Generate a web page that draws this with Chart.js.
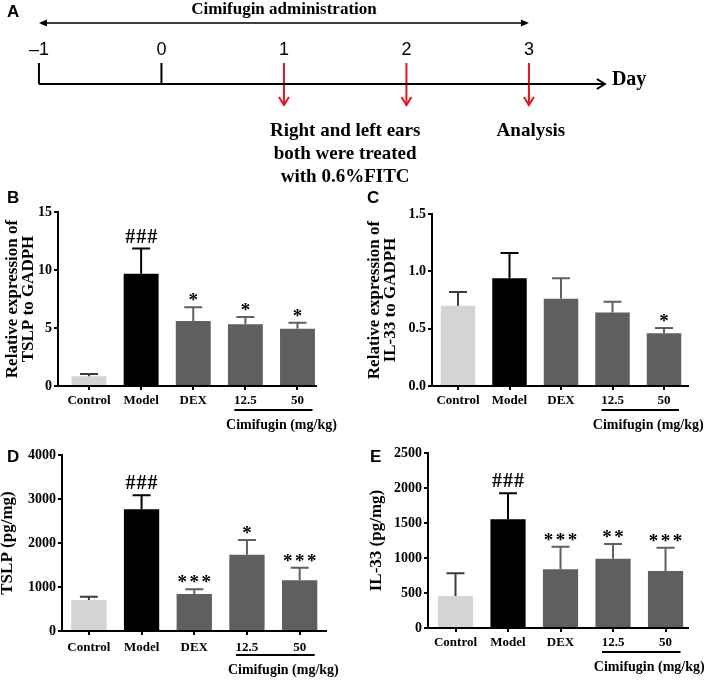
<!DOCTYPE html>
<html>
<head>
<meta charset="utf-8">
<title>Cimifugin</title>
<script src="https://cdn.jsdelivr.net/npm/chart.js@4.4.1/dist/chart.umd.min.js"></script>
<style>
  body { margin: 0; background: #fff; }
  #figura { position: relative; width: 709px; height: 680px; overflow: hidden; }
  canvas { position: absolute; }
</style>
</head>
<body>
<div id="figura">
  <canvas id="grafico-a" width="709" height="190" style="left:0;top:0"></canvas>
  <canvas id="grafico-b" width="355" height="260" style="left:0;top:178px"></canvas>
  <canvas id="grafico-c" width="354" height="260" style="left:355px;top:178px"></canvas>
  <canvas id="grafico-d" width="355" height="250" style="left:0;top:430px"></canvas>
  <canvas id="grafico-e" width="354" height="250" style="left:355px;top:430px"></canvas>
</div>
<script>
// ---- timeline (A)
const dias = [-1, 0, 1, 2, 3];
const rotulosDias = ['–1', '0', '1', '2', '3'];
const diasInicio = [-1, 0];
const diasTratamento = [1, 2, 3];
const periodoAdm = [-1, 3];
const fimEixo = 3.62;
const notaTratamento = ['Right and left ears', 'both were treated', 'with 0.6%FITC'];
const diaNota = 1.5;
const diaAnalise = 3;

// ---- bar panels
const grupos = ['Control', 'Model', 'DEX', '12.5', '50'];

const tslpRel = [0.83, 9.67, 5.6, 5.33, 4.93];      // B
const tslpRelErro = [0.2, 2.18, 1.18, 0.61, 0.52];
const tslpRelSig = ['', '###', '*', '*', '*'];

const il33Rel = [0.70, 0.94, 0.76, 0.64, 0.46];     // C
const il33RelErro = [0.12, 0.22, 0.18, 0.095, 0.045];
const il33RelSig = ['', '', '', '', '*'];

const tslpProt = [705, 2766, 841, 1734, 1152];      // D
const tslpProtErro = [75, 318, 106, 334, 287];
const tslpProtSig = ['', '###', '***', '*', '***'];

const il33Prot = [457, 1552, 838, 990, 814];        // E
const il33ProtErro = [324, 372, 324, 210, 334];
const il33ProtSig = ['', '###', '***', '**', '***'];

var coresBarras = ['#d4d4d4', '#000000', '#5f5f5f', '#5f5f5f', '#5f5f5f'];
var vermelho = '#e3161d';
var serif = '"Liberation Serif", "Times New Roman", serif';
var sans = '"Liberation Sans", Arial, sans-serif';

Chart.defaults.font.family = serif;
Chart.defaults.color = '#000';

function seta(ctx, pontos) {
    ctx.beginPath();
    ctx.moveTo(pontos[0][0], pontos[0][1]);
    ctx.lineTo(pontos[1][0], pontos[1][1]);
    ctx.lineTo(pontos[2][0], pontos[2][1]);
}

const linhaDoTempo = {
    id: 'linhaDoTempo',
    afterDatasetsDraw(chart) {
        const ctx = chart.ctx;
        const xs = chart.scales.x, ys = chart.scales.y;
        const base = ys.getPixelForValue(0);
        const fundo = ys.getPixelForValue(-1);
        ctx.save();
        ctx.fillStyle = '#000';
        ctx.strokeStyle = '#000';

        // administration period, double arrow
        const a0 = xs.getPixelForValue(periodoAdm[0]), a1 = xs.getPixelForValue(periodoAdm[1]);
        const ay = base - 61;
        ctx.lineWidth = 1.5;
        ctx.beginPath();
        ctx.moveTo(a0 + 4, ay);
        ctx.lineTo(a1 - 4, ay);
        ctx.stroke();
        seta(ctx, [[a0 + 8, ay - 3.5], [a0, ay], [a0 + 8, ay + 3.5]]);
        ctx.closePath(); ctx.fill();
        seta(ctx, [[a1 - 8, ay - 3.5], [a1, ay], [a1 - 8, ay + 3.5]]);
        ctx.closePath(); ctx.fill();

        ctx.textAlign = 'center';
        ctx.textBaseline = 'alphabetic';
        ctx.font = 'bold 17px ' + serif;
        ctx.fillText('Cimifugin administration', (a0 + a1) / 2, base - 70);

        // day numbers
        ctx.font = '18px ' + sans;
        dias.forEach(function (d, i) {
            ctx.fillText(rotulosDias[i], xs.getPixelForValue(d), base - 29);
        });

        // end of the day axis
        const ponta = xs.getPixelForValue(fimEixo);
        ctx.lineWidth = 2;
        seta(ctx, [[ponta - 8, base - 5], [ponta, base], [ponta - 8, base + 5]]);
        ctx.stroke();
        ctx.textAlign = 'left';
        ctx.font = 'bold 20px ' + serif;
        ctx.fillText('Day', ponta + 7, base + 1);

        // red arrow heads
        ctx.strokeStyle = vermelho;
        diasTratamento.forEach(function (d) {
            const x = xs.getPixelForValue(d);
            seta(ctx, [[x - 5, fundo - 8], [x, fundo], [x + 5, fundo - 8]]);
            ctx.stroke();
        });

        // notes
        ctx.textAlign = 'center';
        ctx.font = 'bold 19px ' + serif;
        notaTratamento.forEach(function (t, i) {
            ctx.fillText(t, xs.getPixelForValue(diaNota), base + 52 + i * 23);
        });
        ctx.fillText('Analysis', xs.getPixelForValue(diaAnalise) + 2, base + 52);

        ctx.textAlign = 'left';
        ctx.font = 'bold 17px ' + sans;
        ctx.fillText('A', 7, 17);
        ctx.restore();
    }
};

function segmentos(lista, ate) {
    var pts = [];
    lista.forEach(function (d) {
        pts.push({ x: d, y: 1 }, { x: d, y: ate }, { x: d, y: null });
    });
    return pts;
}

new Chart(document.getElementById('grafico-a'), {
    type: 'line',
    data: {
        datasets: [
            { data: [{ x: dias[0], y: 0 }, { x: fimEixo, y: 0 }], borderColor: '#000', borderWidth: 2, clip: false },
            { data: segmentos(diasInicio, 0), borderColor: '#000', borderWidth: 2, clip: false },
            { data: segmentos(diasTratamento, -1), borderColor: vermelho, borderWidth: 2, clip: false }
        ]
    },
    options: {
        responsive: false,
        animation: false,
        layout: { padding: { top: 63, bottom: 85, left: 0, right: 0 } },
        elements: { point: { radius: 0 }, line: { tension: 0 } },
        plugins: { legend: { display: false }, tooltip: { enabled: false } },
        scales: {
            x: { type: 'linear', display: false, min: -1.318, max: 4.47 },
            y: { type: 'linear', display: false, min: -1, max: 1 }
        }
    },
    plugins: [linhaDoTempo]
});

// error bars, significance marks, dose underline, panel letter
const extrasBarras = {
    id: 'extrasBarras',
    afterDatasetsDraw(chart, args, opts) {
        const ctx = chart.ctx;
        const ds = chart.data.datasets[0];
        const meta = chart.getDatasetMeta(0);
        const xs = chart.scales.x, ys = chart.scales.y;
        const area = chart.chartArea;
        ctx.save();
        ctx.lineWidth = 2;
        ctx.textAlign = 'center';
        ctx.textBaseline = 'alphabetic';
        meta.data.forEach(function (bar, i) {
            const topo = ys.getPixelForValue(ds.data[i].y + ds.erros[i]);
            ctx.strokeStyle = i === 0 ? '#3c3c3c' : coresBarras[i];
            ctx.beginPath();
            ctx.moveTo(bar.x, bar.y);
            ctx.lineTo(bar.x, topo);
            ctx.moveTo(bar.x - 9, topo);
            ctx.lineTo(bar.x + 9, topo);
            ctx.stroke();

            const sig = ds.sig[i];
            if (sig) {
                const hash = sig[0] === '#';
                ctx.fillStyle = '#000';
                ctx.font = (hash ? 'bold 20px ' : 'bold 19px ') + serif;
                const passo = hash ? 11 : 12;
                for (let j = 0; j < sig.length; j++) {
                    const x = bar.x + (j - (sig.length - 1) / 2) * passo;
                    ctx.fillText(sig[j], x, topo - (hash ? 6 : 1));
                }
            }
        });

        const x0 = xs.getPixelForValue(3) - 11, x1 = xs.getPixelForValue(4) + 15;
        ctx.strokeStyle = '#000';
        ctx.beginPath();
        ctx.moveTo(x0, area.bottom + 24);
        ctx.lineTo(x1, area.bottom + 24);
        ctx.stroke();
        ctx.fillStyle = '#000';
        ctx.font = 'bold 14px ' + serif;
        ctx.textBaseline = 'middle';
        ctx.fillText('Cimifugin (mg/kg)', (x0 + x1) / 2 + 8, area.bottom + 39);

        ctx.textAlign = 'left';
        ctx.textBaseline = 'alphabetic';
        ctx.font = 'bold 17px ' + sans;
        ctx.fillText(opts.letra, opts.lx, opts.ly);
        ctx.restore();
    }
};

function graficoBarras(id, valores, erros, sig, cfg) {
    var eixo = {
        grid: { offset: false, drawOnChartArea: false, color: '#000', lineWidth: 2, tickLength: 4 },
        border: { color: '#000', width: 2 }
    };
    return new Chart(document.getElementById(id), {
        type: 'bar',
        data: {
            datasets: [{
                data: valores.map(function (v, i) { return { x: i, y: v }; }),
                erros: erros,
                sig: sig,
                backgroundColor: coresBarras,
                borderWidth: 0,
                barPercentage: 0.67,
                categoryPercentage: 1
            }]
        },
        options: {
            responsive: false,
            animation: false,
            layout: { padding: cfg.padding },
            plugins: {
                legend: { display: false },
                tooltip: { enabled: false },
                extrasBarras: cfg.letra
            },
            scales: {
                x: Object.assign({
                    type: 'linear', min: cfg.xMin, max: cfg.xMax, bounds: 'data', offset: false,
                    ticks: {
                        autoSkip: false, maxRotation: 0,
                        padding: cfg.xPad, color: '#000', font: { size: 13, weight: 'bold' },
                        callback: function (v) { return grupos[v] || ''; }
                    },
                    // one tick under every bar
                    afterBuildTicks: function (s) {
                        s.ticks = grupos.map(function (g, i) { return { value: i }; });
                    },
                    afterFit: function (s) { s.height = 30; }
                }, eixo),
                y: Object.assign({
                    type: 'linear', min: 0, max: cfg.yMax,
                    ticks: {
                        stepSize: cfg.passo, padding: 2, color: '#000', font: { size: 14, weight: 'bold' },
                        callback: cfg.formato
                    },
                    title: {
                        display: true, text: cfg.titulo, color: '#000',
                        font: { size: 17, weight: 'bold', lineHeight: 0.94 },
                        padding: { top: cfg.tituloPad, bottom: 0 }
                    },
                    afterFit: function (s) { s.width = cfg.eixoY; }
                }, eixo)
            }
        },
        plugins: [extrasBarras]
    });
}

graficoBarras('grafico-b', tslpRel, tslpRelErro, tslpRelSig, {
    padding: { left: 0, top: 34, right: 39, bottom: 22 },
    eixoY: 58, xMin: -0.595, xMax: 4.355, xPad: 3,
    yMax: 15, passo: 5, formato: function (v) { return String(v); },
    titulo: ['Relative expression of', 'TSLP to GADPH'], tituloPad: 5,
    letra: { letra: 'B', lx: 7, ly: 25 }
});

graficoBarras('grafico-c', il33Rel, il33RelErro, il33RelSig, {
    padding: { left: 0, top: 36, right: 21, bottom: 22 },
    eixoY: 77, xMin: -0.505, xMax: 4.466, xPad: 3,
    yMax: 1.5, passo: 0.5, formato: function (v) { return v.toFixed(1); },
    titulo: ['Relative expression of', 'IL-33 to GADPH'], tituloPad: 12,
    letra: { letra: 'C', lx: 12, ly: 25 }
});

graficoBarras('grafico-d', tslpProt, tslpProtErro, tslpProtSig, {
    padding: { left: 0, top: 25, right: 29, bottom: 19 },
    eixoY: 62, xMin: -0.51, xMax: 4.5, xPad: 5,
    yMax: 4000, passo: 1000, formato: function (v) { return String(v); },
    titulo: 'TSLP (pg/mg)', tituloPad: 0,
    letra: { letra: 'D', lx: 7, ly: 32 }
});

graficoBarras('grafico-e', il33Prot, il33ProtErro, il33ProtSig, {
    padding: { left: 0, top: 23, right: 21, bottom: 22 },
    eixoY: 73, xMin: -0.524, xMax: 4.428, xPad: 3,
    yMax: 2500, passo: 500, formato: function (v) { return String(v); },
    titulo: 'IL-33 (pg/mg)', tituloPad: 14,
    letra: { letra: 'E', lx: 15, ly: 32 }
});
</script>
</body>
</html>
